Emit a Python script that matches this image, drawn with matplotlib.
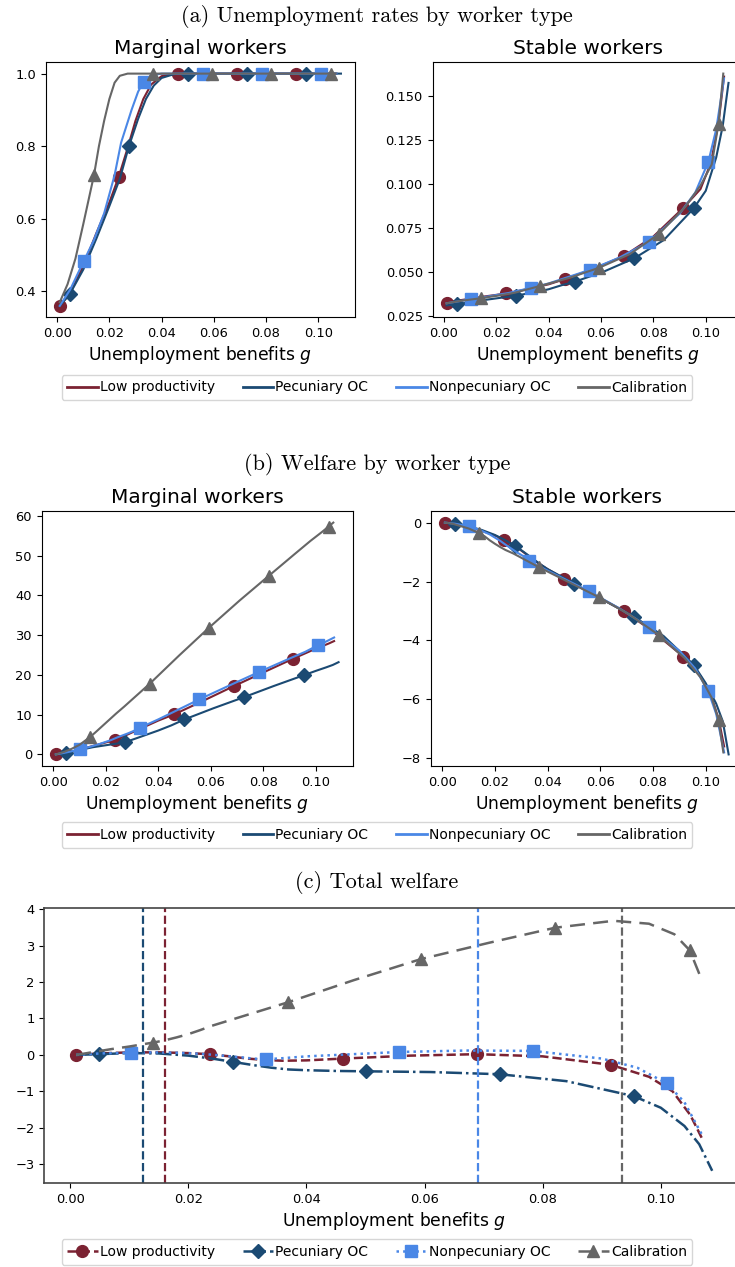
import matplotlib.pyplot as plt
from matplotlib.lines import Line2D
from matplotlib.ticker import MultipleLocator

# grids of unemployment benefits g for each scenario (markers sit on some of them)
g_low = [0.001, 0.005, 0.010, 0.015, 0.020, 0.0236, 0.027, 0.030, 0.033, 0.036, 0.040,
         0.0462, 0.0575, 0.0689, 0.080, 0.0915, 0.098, 0.102, 0.105, 0.107]
g_pec = [0.001, 0.0048, 0.010, 0.015, 0.020, 0.024, 0.0275, 0.031, 0.034, 0.037, 0.040,
         0.045, 0.050, 0.061, 0.0727, 0.084, 0.0954, 0.100, 0.104, 0.1065, 0.1087]
g_non = [0.001, 0.005, 0.0103, 0.014, 0.018, 0.022, 0.0245, 0.0285, 0.031, 0.0331, 0.036,
         0.040, 0.0557, 0.067, 0.0783, 0.090, 0.096, 0.101, 0.104, 0.107]
g_cal = [0.001, 0.004, 0.007, 0.010, 0.0141, 0.016, 0.018, 0.020, 0.022, 0.024, 0.027,
         0.0368, 0.048, 0.0594, 0.071, 0.0821, 0.092, 0.098, 0.1023, 0.1049, 0.1067]

mk_low = [0.001, 0.0236, 0.0462, 0.0689, 0.0915]
mk_pec = [0.0048, 0.0275, 0.050, 0.0727, 0.0954]
mk_non = [0.0103, 0.0331, 0.0557, 0.0783, 0.101]
mk_cal = [0.0141, 0.0368, 0.0594, 0.0821, 0.1049]

# (a) unemployment rate, marginal workers
ua_low = [0.36, 0.395, 0.47, 0.56, 0.645, 0.716, 0.795, 0.87, 0.93, 0.97, 0.993,
          1.0, 1.0, 1.0, 1.0, 1.0, 1.0, 1.0, 1.0, 1.0]
ua_pec = [0.36, 0.392, 0.46, 0.545, 0.635, 0.71, 0.80, 0.875, 0.93, 0.967, 0.988,
          0.999, 1.0, 1.0, 1.0, 1.0, 1.0, 1.0, 1.0, 1.0, 1.0]
ua_non = [0.36, 0.405, 0.485, 0.54, 0.615, 0.72, 0.81, 0.90, 0.95, 0.978, 0.995,
          1.0, 1.0, 1.0, 1.0, 1.0, 1.0, 1.0, 1.0, 1.0]
ua_cal = [0.37, 0.42, 0.49, 0.585, 0.72, 0.80, 0.87, 0.93, 0.975, 0.994, 1.0,
          1.0, 1.0, 1.0, 1.0, 1.0, 1.0, 1.0, 1.0, 1.0, 1.0]

# (a) unemployment rate, stable workers
us_low = [0.0324, 0.0335, 0.0346, 0.0358, 0.0368, 0.0377, 0.0386, 0.0395, 0.0405, 0.0415,
          0.0428, 0.0458, 0.0518, 0.0591, 0.070, 0.0864, 0.097, 0.112, 0.136, 0.161]
us_pec = [0.0308, 0.0315, 0.0326, 0.0338, 0.0348, 0.0356, 0.0364, 0.0373, 0.0382, 0.039,
          0.040, 0.0423, 0.0443, 0.050, 0.0576, 0.068, 0.086, 0.096, 0.115, 0.133, 0.1574]
us_non = [0.032, 0.033, 0.0343, 0.0352, 0.0362, 0.0372, 0.0378, 0.0392, 0.040, 0.0409,
          0.0418, 0.0433, 0.051, 0.058, 0.067, 0.083, 0.095, 0.1125, 0.131, 0.160]
us_cal = [0.032, 0.0328, 0.0335, 0.0341, 0.0349, 0.0353, 0.0358, 0.0362, 0.0367, 0.0372,
          0.038, 0.0419, 0.0465, 0.0523, 0.060, 0.0714, 0.0866, 0.099, 0.111, 0.1343, 0.1627]

# (b) welfare, marginal workers
wm_low = [0.0, 0.4, 1.2, 2.1, 3.0, 3.6, 4.6, 5.5, 6.4, 7.3, 8.5,
          10.1, 13.6, 17.2, 20.6, 24.1, 26.0, 27.1, 27.9, 28.5]
wm_pec = [0.0, 0.4, 1.1, 1.8, 2.3, 2.7, 3.1, 3.9, 4.6, 5.3, 6.0,
          7.3, 8.8, 11.6, 14.4, 17.2, 19.9, 21.0, 21.9, 22.5, 23.2]
wm_non = [0.0, 0.5, 1.26, 1.9, 2.7, 3.6, 4.3, 5.3, 6.0, 6.7, 7.6,
          8.8, 13.85, 17.3, 20.7, 24.1, 25.8, 27.5, 28.4, 29.4]
wm_cal = [0.0, 0.6, 1.4, 2.4, 4.4, 5.5, 6.7, 7.9, 9.1, 10.3, 12.0,
          17.8, 24.9, 31.9, 38.7, 44.9, 50.4, 53.7, 55.9, 57.3, 58.3]

# (b) welfare, stable workers
ws_low = [0.0, -0.06, -0.15, -0.28, -0.44, -0.58, -0.75, -0.95, -1.15, -1.35, -1.58,
          -1.9, -2.45, -3.0, -3.7, -4.55, -5.2, -5.85, -6.7, -7.6]
ws_pec = [0.0, -0.05, -0.13, -0.25, -0.42, -0.6, -0.78, -1.0, -1.2, -1.4, -1.58,
          -1.82, -2.07, -2.62, -3.19, -3.85, -4.82, -5.45, -6.15, -6.75, -7.87]
ws_non = [0.0, -0.04, -0.13, -0.24, -0.4, -0.62, -0.78, -1.02, -1.15, -1.31, -1.45,
          -1.63, -2.33, -2.9, -3.54, -4.35, -4.95, -5.73, -6.5, -7.8]
ws_cal = [0.0, -0.04, -0.12, -0.2, -0.36, -0.46, -0.6, -0.72, -0.83, -0.93, -1.05,
          -1.52, -2.02, -2.53, -3.12, -3.81, -4.6, -5.25, -5.95, -6.71, -7.8]

# (c) total welfare
tw_low = [0.0, 0.04, 0.07, 0.07, 0.05, 0.02, -0.04, -0.1, -0.14, -0.16, -0.15,
          -0.1, -0.02, 0.02, -0.04, -0.27, -0.6, -1.0, -1.65, -2.3]
tw_pec = [0.0, 0.02, 0.05, 0.04, -0.02, -0.1, -0.19, -0.28, -0.35, -0.4, -0.42,
          -0.44, -0.45, -0.47, -0.53, -0.72, -1.13, -1.45, -1.95, -2.45, -3.18]
tw_non = [0.0, 0.04, 0.06, 0.07, 0.06, 0.03, 0.0, -0.06, -0.1, -0.12, -0.09,
          -0.04, 0.08, 0.12, 0.11, -0.1, -0.35, -0.78, -1.3, -2.2]
tw_cal = [0.0, 0.08, 0.16, 0.23, 0.34, 0.4, 0.48, 0.57, 0.68, 0.8, 0.95,
          1.44, 2.05, 2.63, 3.08, 3.49, 3.68, 3.6, 3.31, 2.87, 2.15]

# welfare-maximising benefit per scenario
g_opt = [0.0161, 0.0123, 0.069, 0.0935]

names = ["Low productivity", "Pecuniary OC", "Nonpecuniary OC", "Calibration"]
colors = ["#7b2232", "#1b4a73", "#4a87e6", "#666666"]
markers = ["o", "D", "s", "^"]
msizes = [8.5, 7.5, 8, 8.5]
grids = [g_low, g_pec, g_non, g_cal]
marks = [mk_low, mk_pec, mk_non, mk_cal]

W, H = 735, 1267
fig = plt.figure(figsize=(W / 100, H / 100), dpi=100)


def box(l, t, r, b):
    return [l / W, 1 - b / H, (r - l) / W, (b - t) / H]


def draw(ax, ys, styles=("-",) * 4, lw=1.5):
    lines = []
    for i in range(4):
        kw = {}
        st = styles[i]
        if isinstance(st, tuple):
            kw["dashes"] = st
            st = "--"
        ln, = ax.plot(grids[i], ys[i], st, color=colors[i], lw=lw,
                      marker=markers[i], ms=msizes[i], label=names[i],
                      markevery=[grids[i].index(m) for m in marks[i]], **kw)
        lines.append(ln)
    return lines


def style(ax, ystep, title=None):
    if title:
        ax.set_title(title, fontsize=14.5)
    ax.set_xlabel("Unemployment benefits $g$", fontsize=12.3, labelpad=3)
    ax.xaxis.set_major_locator(MultipleLocator(0.02))
    ax.yaxis.set_major_locator(MultipleLocator(ystep))
    ax.tick_params(labelsize=9.4)


sec_kw = dict(ha="center", va="center", fontsize=16, family="cmr10")
leg_kw = dict(loc="center", ncol=4, fontsize=10, handlelength=2.2,
              handletextpad=0.15, columnspacing=2.0)

# (a)
fig.text(377 / W, 1 - 17 / H, "(a) Unemployment rates by worker type", **sec_kw)
ax = fig.add_axes(box(45.7, 62, 355, 317.5))
draw(ax, [ua_low, ua_pec, ua_non, ua_cal])
style(ax, 0.2, "Marginal workers")
ax = fig.add_axes(box(432.5, 62, 742.6, 317))
draw(ax, [us_low, us_pec, us_non, us_cal])
style(ax, 0.025, "Stable workers")
handles = [Line2D([], [], color=c, lw=2) for c in colors]
fig.legend(handles, names, bbox_to_anchor=(377 / W, 1 - 387.5 / H), **leg_kw)

# (b)
fig.text(377 / W, 1 - 465 / H, "(b) Welfare by worker type", **sec_kw)
ax = fig.add_axes(box(41.7, 511, 352.7, 766))
draw(ax, [wm_low, wm_pec, wm_non, wm_cal])
style(ax, 10, "Marginal workers")
ax = fig.add_axes(box(430.7, 511, 742.8, 766))
draw(ax, [ws_low, ws_pec, ws_non, ws_cal])
style(ax, 2, "Stable workers")
fig.legend(handles, names, bbox_to_anchor=(377 / W, 1 - 835 / H), **leg_kw)

# (c)
fig.text(377 / W, 1 - 883 / H, "(c) Total welfare", **sec_kw)
ax = fig.add_axes(box(44.3, 908.3, 744, 1183.3))
lines = draw(ax, [tw_low, tw_pec, tw_non, tw_cal],
             styles=["--", "-.", ":", (6, 3.3)], lw=1.8)
for g, c in zip(g_opt, colors):
    ax.axvline(g, color=c, ls="--", lw=1.6)
style(ax, 1)
for s in ax.spines.values():
    s.set_color("#444444")
    s.set_linewidth(1.2)
fig.legend(lines, names, bbox_to_anchor=(377 / W, 1 - 1252 / H), **leg_kw)

fig.savefig("out.png", dpi=100)
